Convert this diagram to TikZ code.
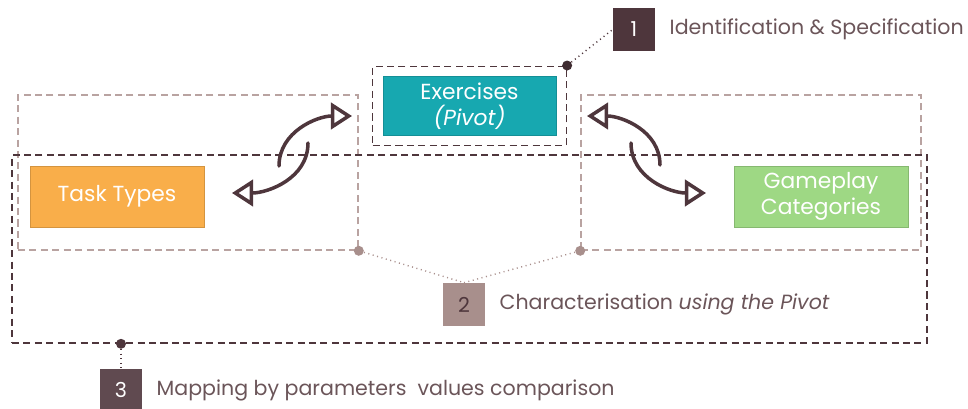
\documentclass[tikz,border=0pt]{standalone}
\usepackage{fontspec}
\setmainfont{Poppins}
\usetikzlibrary{arrows.meta, positioning, fit, calc}
\definecolor{plum}{HTML}{4E363C}
\definecolor{mauve}{HTML}{A88F8C}
\definecolor{mauveline}{HTML}{B9A3A1}
\definecolor{labelgray}{HTML}{6B5559}
\definecolor{pivotteal}{HTML}{17A8B0}
\definecolor{taskorange}{HTML}{F9AE4A}
\definecolor{gamegreen}{HTML}{9ED884}

\begin{document}
\begin{tikzpicture}[
  font=\fontsize{11.7}{13.5}\selectfont,
  box/.style={rectangle, draw=#1!85!black, fill=#1, minimum width=3.48cm, minimum height=1.22cm, text=white, align=center, font=\fontsize{12.4}{15}\selectfont},
  stepbox/.style={rectangle, fill=#1, minimum width=0.84cm, minimum height=0.86cm, inner sep=0pt},
  steplabel/.style={right=0.28cm of #1, text=labelgray, inner sep=0pt},
  zone/.style={draw=#1, line width=0.9pt, dash pattern=on 4pt off 2.5pt},
  swap/.style={line width=2pt, color=plum, line cap=round, -{Triangle[open, length=12pt, width=15pt]}},
  callout/.style={line width=0.8pt, color=#1, dash pattern=on 0.6pt off 2pt},
  pin/.style={circle, fill=#1, inner sep=0pt, minimum size=0.2cm}
]
  \useasboundingbox (0,0) rectangle (19.36,8.16);

  % Main boxes
  \node[box=pivotteal, minimum width=3.46cm, minimum height=1.16cm] (exercises) at (9.39,6.04) {Exercises\\\textit{(Pivot)}};
  \node[box=taskorange] (tasktypes) at (2.34,4.23) {Task Types};
  \node[box=gamegreen] (gameplay) at (16.42,4.23) {Gameplay\\Categories};

  % Zones
  \node[zone=plum, fit=(exercises), inner sep=0.2cm] (pivotzone) {};
  \node[zone=mauveline, minimum width=6.8cm, minimum height=3.1cm] (taskzone) at (3.76,4.71) {};
  \node[zone=mauveline, minimum width=6.8cm, minimum height=3.1cm] (gamezone) at (15.02,4.71) {};
  \node[zone=plum, minimum width=18.3cm, minimum height=3.76cm] (mappingzone) at (9.39,3.18) {};

  % Swap arrows
  \coordinate (la1) at (6.16,5.30);
  \coordinate (la2) at (4.64,4.30);
  \coordinate (lb1) at (5.58,4.84);
  \coordinate (lb2) at (7.04,5.84);
  \coordinate (ra1) at (13.20,4.86);
  \coordinate (ra2) at (11.74,5.84);
  \coordinate (rb1) at (12.62,5.30);
  \coordinate (rb2) at (14.12,4.30);
  \draw[swap] (la1) to[out=-90, in=0] (la2);
  \draw[swap] (lb1) to[out=90, in=180] (lb2);
  \draw[swap] (ra1) to[out=90, in=0] (ra2);
  \draw[swap] (rb1) to[out=-90, in=180] (rb2);

  % Step 1 - Identification
  \node[stepbox=plum, text=white] (step1) at (12.68,7.57) {1};
  \node[steplabel=step1] (step1label) {Identification \& Specification};
  \node[pin=plum!80!black] (pin1) at (pivotzone.north east) {};
  \draw[callout=plum] (pin1) -- (step1.west);

  % Step 2 - Characterisation
  \node[stepbox=mauve, text=plum] (step2) at (9.28,2.07) {2};
  \node[steplabel=step2] (step2label) {Characterisation \textit{using the Pivot}};
  \node[pin=mauve] (pin2a) at (taskzone.south east) {};
  \node[pin=mauve] (pin2b) at (gamezone.south west) {};
  \draw[callout=mauve] (pin2a) -- (step2.north);
  \draw[callout=mauve] (pin2b) -- (step2.north);

  % Step 3 - Mapping
  \node[stepbox=plum!90!white, text=white] (step3) at (2.42,0.36) {3};
  \node[steplabel=step3] (step3label) {Mapping by parameters\ \ values comparison};
  \node[pin=plum] (pin3) at (step3 |- mappingzone.south) {};
  \draw[callout=plum] (pin3) -- (step3.north);
\end{tikzpicture}
\end{document}
